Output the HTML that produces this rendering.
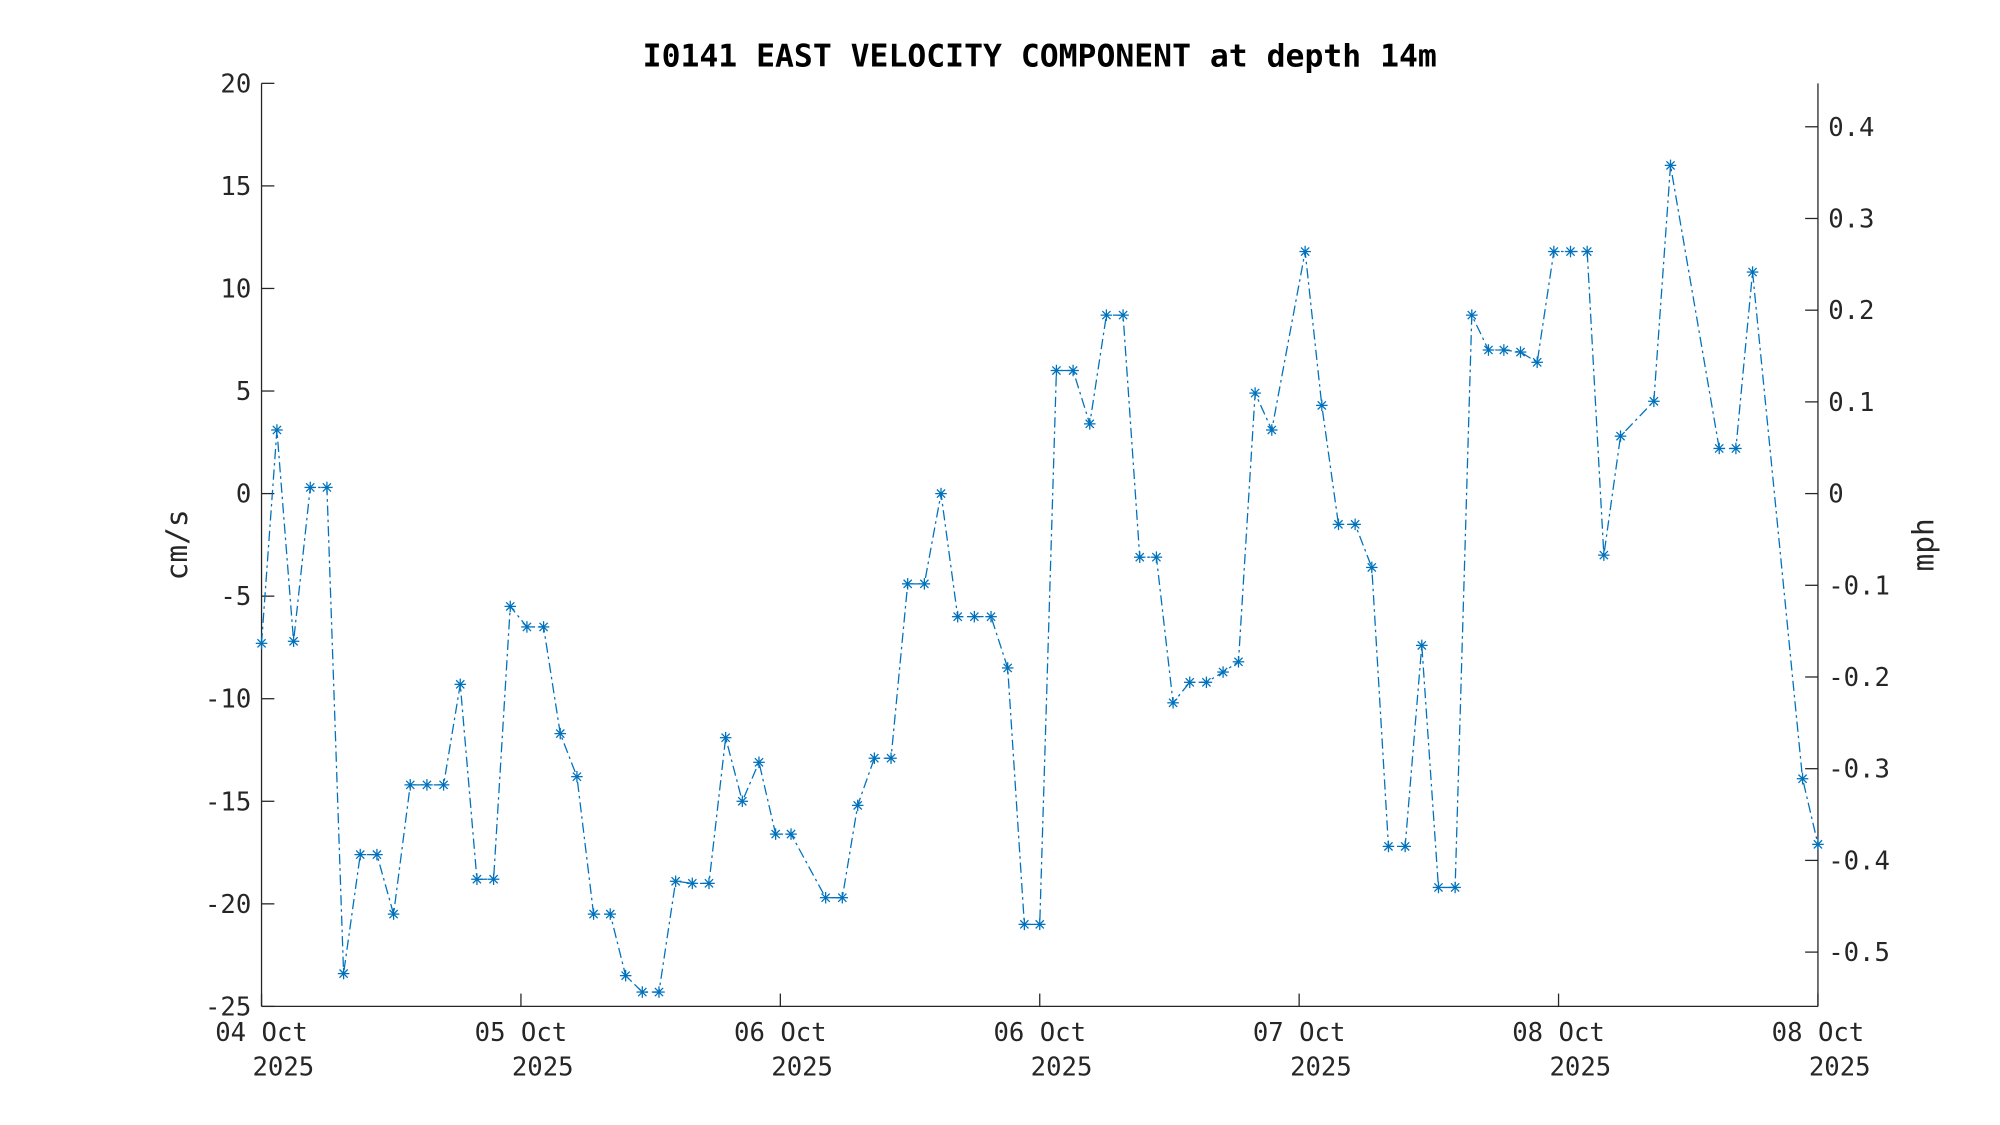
<!DOCTYPE html>
<html><head><meta charset="utf-8"><style>
html,body{margin:0;padding:0;background:#fff;}
svg{display:block;}
text{font-family:"DejaVu Sans Mono","Liberation Mono",monospace;fill:#262626;}
</style></head><body>
<svg id="s" width="2000" height="1125" viewBox="0 0 1560 877.5" xmlns="http://www.w3.org/2000/svg">
<rect width="1560" height="877.5" fill="#fff"/>
<text x="811" y="52" font-size="24.5" font-weight="bold" text-anchor="middle" style="fill:#000">I0141 EAST VELOCITY COMPONENT at depth 14m</text>
<g id="ax" stroke="#262626" stroke-width="1" fill="none"></g>
<g id="lbl" font-size="20"></g>
<text transform="translate(146,425) rotate(-90)" font-size="23" text-anchor="middle">cm/s</text>
<text transform="translate(1508,425) rotate(-90)" font-size="23" text-anchor="middle">mph</text>
<polyline id="ln" fill="none" stroke="#0072BD" stroke-width="1" stroke-dasharray="8 3 2 3"/>
<g id="mk" stroke="#0072BD" stroke-width="1"></g>
</svg>
<script>
var L=204,R=1418,T=65,B=785;
function Y(v){return 385-16*v;}
var ax=document.getElementById('ax'),lb=document.getElementById('lbl'),h='',t='';
h+='<line x1="'+L+'" y1="'+T+'" x2="'+L+'" y2="'+B+'"/>';
h+='<line x1="'+R+'" y1="'+T+'" x2="'+R+'" y2="'+B+'"/>';
h+='<line x1="'+L+'" y1="'+B+'" x2="'+R+'" y2="'+B+'"/>';
for(var v=-25;v<=20;v+=5){var y=Y(v);h+='<line x1="'+L+'" y1="'+y+'" x2="'+(L+10)+'" y2="'+y+'"/>';t+='<text x="'+(L-8)+'" y="'+(y+7)+'" text-anchor="end">'+v+'</text>';}
for(var m=-5;m<=4;m++){var y=385-m*0.1/0.022369*16;h+='<line x1="'+(R-10)+'" y1="'+y+'" x2="'+R+'" y2="'+y+'"/>';t+='<text x="'+(R+8)+'" y="'+(y+7)+'">'+(m==0?'0':(m/10).toFixed(1))+'</text>';}
var xl=['04 Oct','05 Oct','06 Oct','06 Oct','07 Oct','08 Oct','08 Oct'];
for(var i=0;i<7;i++){var x=L+i*(R-L)/6;h+='<line x1="'+x+'" y1="'+B+'" x2="'+x+'" y2="'+(B-10)+'"/>';t+='<text x="'+x+'" y="'+(B+27)+'" text-anchor="middle">'+xl[i]+'</text><text x="'+(x+17)+'" y="'+(B+54)+'" text-anchor="middle">2025</text>';}
ax.innerHTML=h;lb.innerHTML=t;
var d=[[204,-7.3],[216,3.1],[229,-7.2],[242,0.3],[255,0.3],[268,-23.4],[281,-17.6],[294,-17.6],[307,-20.5],[320,-14.2],[333,-14.2],[346,-14.2],[359,-9.3],[372,-18.8],[385,-18.8],[398,-5.5],[411,-6.5],[424,-6.5],[437,-11.7],[450,-13.8],[463,-20.5],[476,-20.5],[488,-23.5],[501,-24.3],[514,-24.3],[527,-18.9],[540,-19.0],[553,-19.0],[566,-11.9],[579,-15.0],[592,-13.1],[605,-16.6],[617,-16.6],[644,-19.7],[657,-19.7],[669,-15.2],[682,-12.9],[695,-12.9],[708,-4.4],[721,-4.4],[734,0],[747,-6.0],[760,-6.0],[773,-6.0],[786,-8.5],[799,-21.0],[811,-21.0],[824,6.0],[837,6.0],[850,3.4],[863,8.7],[876,8.7],[889,-3.1],[902,-3.1],[915,-10.2],[928,-9.2],[941,-9.2],[954,-8.7],[966,-8.2],[979,4.9],[992,3.1],[1018,11.8],[1031,4.3],[1044,-1.5],[1057,-1.5],[1070,-3.6],[1083,-17.2],[1096,-17.2],[1109,-7.4],[1122,-19.2],[1135,-19.2],[1148,8.7],[1161,7.0],[1173,7.0],[1186,6.9],[1199,6.4],[1212,11.8],[1225,11.8],[1238,11.8],[1251,-3.0],[1264,2.8],[1290,4.5],[1303,16.0],[1341,2.2],[1354,2.2],[1367,10.8],[1406,-13.9],[1418,-17.1]];
var pts=[],mk='';var r=4.5,q=3.2;
d.forEach(function(p){var x=p[0],y=Y(p[1]);pts.push(x+','+y);
mk+='<line x1="'+(x-r)+'" y1="'+y+'" x2="'+(x+r)+'" y2="'+y+'"/><line x1="'+x+'" y1="'+(y-r)+'" x2="'+x+'" y2="'+(y+r)+'"/><line x1="'+(x-q)+'" y1="'+(y-q)+'" x2="'+(x+q)+'" y2="'+(y+q)+'"/><line x1="'+(x-q)+'" y1="'+(y+q)+'" x2="'+(x+q)+'" y2="'+(y-q)+'"/>';});
document.getElementById('ln').setAttribute('points',pts.join(' '));
document.getElementById('mk').innerHTML=mk;
</script>
</body></html>
